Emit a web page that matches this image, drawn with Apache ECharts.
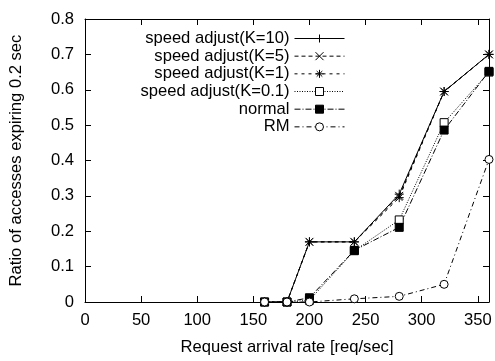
<!DOCTYPE html>
<html>
<head>
<meta charset="utf-8">
<script src="https://cdn.jsdelivr.net/npm/echarts@6/dist/echarts.min.js"></script>
<style>
html,body{margin:0;padding:0;background:#fff;}
#chart{width:495px;height:361px;}
</style>
</head>
<body>
<div id="chart"></div>
<script>
const rates = [160, 180, 200, 240, 280, 320, 360];
const k10 = [0, 0, 0.17, 0.17, 0.305, 0.595, 0.70];
const k5 = [0, 0, 0.17, 0.17, 0.30, 0.595, 0.70];
const k1 = [0, 0, 0.17, 0.17, 0.295, 0.595, 0.70];
const k01 = [0, 0, 0.005, 0.145, 0.232, 0.507, 0.65];
const normal = [0, 0, 0.012, 0.146, 0.211, 0.486, 0.652];
const rm = [0, 0, 0, 0.009, 0.016, 0.05, 0.403];
const names = ['speed adjust(K=10)', 'speed adjust(K=5)', 'speed adjust(K=1)', 'speed adjust(K=0.1)', 'normal', 'RM'];
const xTitle = 'Request arrival rate [req/sec]';
const yTitle = 'Ratio of accesses expiring 0.2 sec';

const FONT = "'Liberation Sans', Arial, Helvetica, sans-serif";
const FS = 16.6;
const pts = v => rates.map((x, i) => [x, v[i]]);

const PLUS = 'path://M5,0L5,10M0,5L10,5';
const CROSS = 'path://M0,0L10,10M10,0L0,10';
const STAR = 'path://M5,0L5,10M0,5L10,5M1.5,1.5L8.5,8.5M8.5,1.5L1.5,8.5';

function mk(name, data, symbol, size, fill, dash) {
  return {
    name: name, type: 'line', data: pts(data),
    symbol: symbol, symbolSize: size,
    itemStyle: { color: fill, borderColor: '#000', borderWidth: 1 },
    lineStyle: { color: '#000', width: 1, type: dash },
    emphasis: { disabled: true }
  };
}

const chart = echarts.init(document.getElementById('chart'), null, { renderer: 'canvas' });
const axisCommon = {
  type: 'value',
  axisLine: { show: true, onZero: false, lineStyle: { color: '#000', width: 1 } },
  axisTick: { show: true, inside: true, length: 6, lineStyle: { color: '#000' } },
  splitLine: { show: false }
};
chart.setOption({
  animation: false,
  backgroundColor: '#fff',
  textStyle: { fontFamily: FONT },
  grid: { left: 85, right: 6, top: 19, bottom: 49 },
  legend: {
    orient: 'vertical', align: 'right', right: 145, top: 25,
    itemWidth: 50, itemHeight: 10, itemGap: 0.67,
    lineStyle: { width: 1 },
    itemStyle: { borderWidth: 1 },
    textStyle: { fontFamily: FONT, fontSize: FS, color: '#000', lineHeight: 16 },
    data: names
  },
  xAxis: [
    Object.assign({}, axisCommon, {
      position: 'bottom', min: 0, max: 360, interval: 50,
      axisLabel: { show: true, fontSize: FS, color: '#000', fontFamily: FONT, margin: 10, showMaxLabel: false },
      name: xTitle, nameLocation: 'middle', nameGap: 37,
      nameTextStyle: { fontSize: FS, color: '#000', fontFamily: FONT }
    }),
    Object.assign({}, axisCommon, {
      position: 'top', min: 0, max: 360, interval: 50,
      axisLabel: { show: false }
    })
  ],
  yAxis: [
    Object.assign({}, axisCommon, {
      position: 'left', min: 0, max: 0.8, interval: 0.1,
      axisLabel: { show: true, fontSize: FS, color: '#000', fontFamily: FONT, margin: 11 },
      name: yTitle, nameLocation: 'middle', nameGap: 60,
      nameTextStyle: { fontSize: FS, color: '#000', fontFamily: FONT }
    }),
    Object.assign({}, axisCommon, {
      position: 'right', min: 0, max: 0.8, interval: 0.1,
      axisLabel: { show: false }
    })
  ],
  series: [
    mk(names[0], k10, PLUS, 9, '#000', 'solid'),
    mk(names[1], k5, CROSS, 8, '#000', [4, 3]),
    mk(names[2], k1, STAR, 9, '#000', [3, 4]),
    mk(names[3], k01, 'rect', 8, '#fff', [1, 1.5]),
    mk(names[4], normal, 'rect', 8, '#000', [6, 2, 1, 2]),
    mk(names[5], rm, 'circle', 8, '#fff', [5, 3, 1, 3])
  ]
});
</script>
</body>
</html>
